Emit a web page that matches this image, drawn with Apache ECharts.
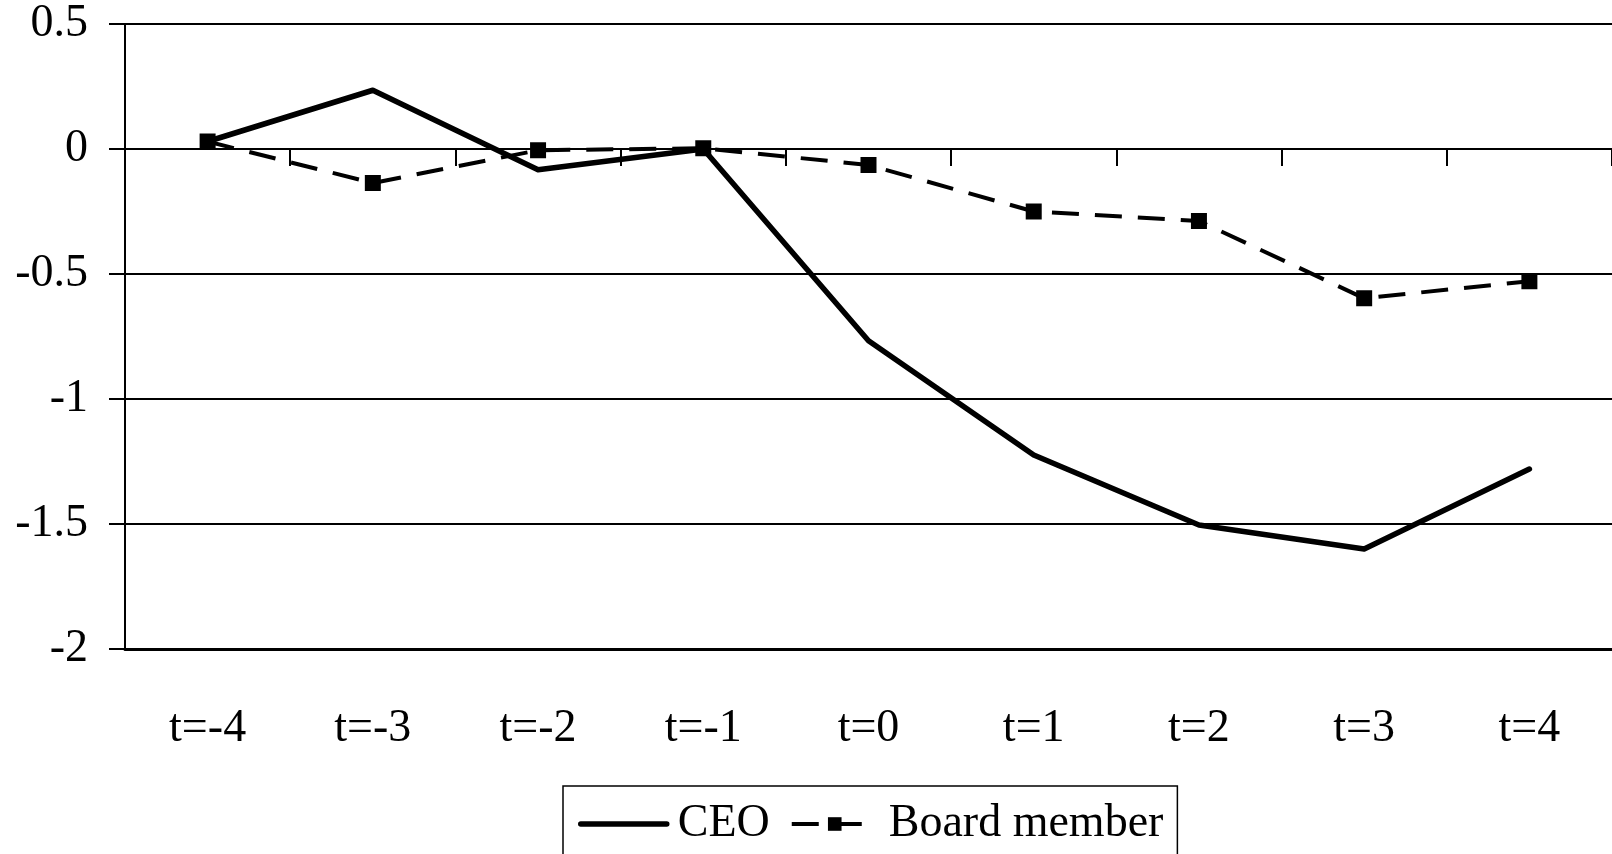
<!DOCTYPE html>
<html>
<head>
<meta charset="utf-8">
<script src="https://cdn.jsdelivr.net/npm/echarts@6/dist/echarts.min.js"></script>
<style>
html,body{margin:0;padding:0;background:#fff;}
#chart{width:1612px;height:854px;}
</style>
</head>
<body>
<div id="chart"></div>
<script>
var categories = ['t=-4','t=-3','t=-2','t=-1','t=0','t=1','t=2','t=3','t=4'];
var ceoValues = [0.03, 0.235, -0.083, 0.0, -0.767, -1.224, -1.504, -1.6, -1.28];
var boardValues = [0.03, -0.136, -0.005, 0.003, -0.064, -0.25, -0.288, -0.597, -0.529];
var yTicks = {min: -2, max: 0.5, interval: 0.5};

var FONT = "'Liberation Serif', 'Times New Roman', serif";
var chart = echarts.init(document.getElementById('chart'));
chart.setOption({
  backgroundColor: '#fff',
  animation: false,
  grid: {left: 125, top: 24, width: 1494, height: 625, containLabel: false},
  legend: {
    left: 563, top: 786,
    orient: 'horizontal',
    padding: [15, 14, 20, 15],
    itemWidth: 86, itemHeight: 17, itemGap: 20,
    borderColor: '#000', borderWidth: 1.5,
    textStyle: {fontFamily: FONT, fontSize: 46, color: '#000', lineHeight: 46, padding: [0, 0, 0, 6]},
    data: [
      {name: 'CEO', itemStyle: {opacity: 0}, lineStyle: {width: 5.5, color: '#000', type: 'solid'}},
      {name: 'Board member', lineStyle: {width: 4, color: '#000', type: [27, 16]}}
    ]
  },
  xAxis: [{
    type: 'category',
    data: categories,
    boundaryGap: true,
    position: 'bottom',
    axisLine: {show: true, onZero: true, lineStyle: {color: '#000', width: 2}},
    axisTick: {show: true, length: 17, lineStyle: {color: '#000', width: 2}},
    axisLabel: {show: false},
    splitLine: {show: false}
  }, {
    type: 'category',
    data: categories,
    boundaryGap: true,
    position: 'bottom',
    axisLine: {show: true, onZero: false, lineStyle: {color: '#000', width: 3}},
    axisTick: {show: false},
    axisLabel: {show: true, margin: 57, fontFamily: FONT, fontSize: 46, color: '#000'},
    splitLine: {show: false}
  }],
  yAxis: {
    type: 'value',
    min: yTicks.min, max: yTicks.max, interval: yTicks.interval,
    axisLine: {show: true, lineStyle: {color: '#000', width: 2}},
    axisTick: {show: true, length: 16, lineStyle: {color: '#000', width: 2}},
    axisLabel: {margin: 37, fontFamily: FONT, fontSize: 46, color: '#000'},
    splitLine: {show: true, lineStyle: {color: '#000', width: 2}}
  },
  series: [{
    name: 'CEO',
    type: 'line',
    data: ceoValues,
    showSymbol: false,
    symbol: 'none',
    lineStyle: {color: '#000', width: 5.5, type: 'solid', cap: 'round', join: 'round'},
    itemStyle: {color: '#000'},
    z: 3
  }, {
    name: 'Board member',
    type: 'line',
    data: boardValues,
    symbol: 'rect',
    symbolSize: 16,
    showSymbol: true,
    lineStyle: {color: '#000', width: 4, type: [27, 16]},
    itemStyle: {color: '#000'},
    z: 4
  }]
});
</script>
</body>
</html>
